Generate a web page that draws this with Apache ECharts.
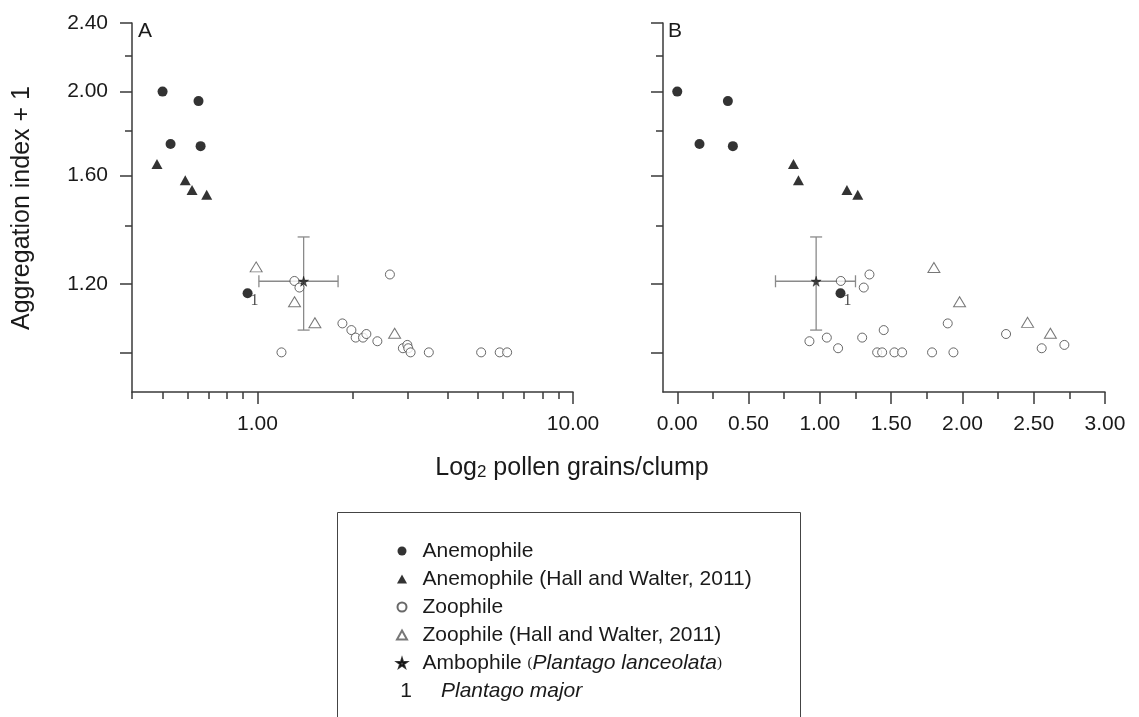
<!DOCTYPE html>
<html>
<head>
<meta charset="utf-8">
<title>Aggregation index vs pollen grains per clump</title>
<script src="https://cdn.jsdelivr.net/npm/echarts@6/dist/echarts.min.js"></script>
<style>
  html, body { margin: 0; padding: 0; background: #fff; }
  #chart { width: 1139px; height: 717px; }
</style>
</head>
<body>
<div id="chart"></div>
<script>
// A: grains/clump on a log axis, B: log2 grains/clump; y is aggregation index + 1 (log)
const anemophileA = [[0.50, 2.00], [0.65, 1.95], [0.53, 1.74], [0.66, 1.73]];
const anemophileB = [[0.00, 2.00], [0.355, 1.95], [0.156, 1.74], [0.39, 1.73]];
const anemoHallA = [[0.48, 1.65], [0.59, 1.58], [0.62, 1.54], [0.69, 1.52]];
const anemoHallB = [[0.815, 1.65], [0.85, 1.58], [1.19, 1.54], [1.266, 1.52]];
const zoophileA = [
  [1.309, 1.209], [1.358, 1.188], [1.191, 1.00], [1.858, 1.080], [1.984, 1.061],
  [2.047, 1.040], [2.159, 1.040], [2.213, 1.050], [2.628, 1.230], [2.398, 1.030],
  [2.889, 1.011], [2.984, 1.020], [3.005, 1.011], [3.056, 1.00], [3.491, 1.00],
  [5.115, 1.00], [5.857, 1.00], [6.183, 1.00]
];
const zoophileB = [
  [1.147, 1.209], [1.348, 1.230], [1.308, 1.188], [0.927, 1.030], [1.049, 1.040],
  [1.128, 1.011], [1.297, 1.040], [1.448, 1.061], [1.402, 1.00], [1.437, 1.00],
  [1.523, 1.00], [1.577, 1.00], [1.787, 1.00], [1.897, 1.080], [1.937, 1.00],
  [2.306, 1.050], [2.556, 1.011], [2.715, 1.020]
];
const zooHallA = [[0.99, 1.255], [1.31, 1.144], [1.52, 1.082], [2.72, 1.052]];
const zooHallB = [[1.80, 1.253], [1.98, 1.144], [2.457, 1.083], [2.617, 1.052]];
const ambophileA = [1.40, 1.208];
const ambophileB = [0.974, 1.208];
const ambophileXErrA = [1.01, 1.80];
const ambophileXErrB = [0.689, 1.25];
const ambophileYErr = [1.061, 1.359];
const plantagoMajorA = [0.93, 1.17];
const plantagoMajorB = [1.145, 1.17];

const yLabels = [1.2, 1.6, 2.0, 2.4];
const yMajorTicks = [1.0, 1.2, 1.6, 2.0, 2.4];
const yMinorTicks = [1.4, 1.8, 2.2];
const xLabelsA = [1, 10];
const xMinorTicksA = [0.4, 0.5, 0.6, 0.7, 0.8, 0.9, 2, 3, 4, 5, 6, 7, 8, 9];
const xLabelsB = [0, 0.5, 1, 1.5, 2, 2.5, 3];
const xMinorTicksB = [0.25, 0.75, 1.25, 1.75, 2.25, 2.75];

const lg = Math.log10;
const same = v => v;
const font = 'Liberation Sans, Arial, sans-serif';
const ink = '#1a1a1a';
const axisColor = '#3a3a3a';

const starPath = 'path://M50,0 L61,35 L98,35 L68,57 L79,91 L50,70 L21,91 L32,57 L2,35 L39,35 Z';
const trianglePath = 'path://M50,0 L100,90 L0,90 Z';

const chart = echarts.init(document.getElementById('chart'));

function yAxes(grid, withLabels) {
  return [
    {
      type: 'value', gridIndex: grid, position: 'left',
      min: lg(0.9), max: lg(2.4),
      axisLine: { show: true, onZero: false, lineStyle: { color: axisColor, width: 1.5 } },
      axisTick: { show: true, length: 12, customValues: yMajorTicks.map(lg), lineStyle: { color: axisColor, width: 1.5 } },
      axisLabel: {
        show: withLabels, customValues: yLabels.map(lg), margin: 24,
        formatter: v => Math.pow(10, v).toFixed(2),
        fontFamily: font, fontSize: 21, color: ink
      },
      splitLine: { show: false }
    },
    {
      type: 'value', gridIndex: grid, position: 'left',
      min: lg(0.9), max: lg(2.4),
      axisLine: { show: false, onZero: false },
      axisTick: { show: true, length: 7, customValues: yMinorTicks.map(lg), lineStyle: { color: axisColor, width: 1.5 } },
      axisLabel: { show: false },
      splitLine: { show: false }
    }
  ];
}

function xAxes(grid, min, max, labels, minor, tx) {
  return [
    {
      type: 'value', gridIndex: grid, position: 'bottom', min: min, max: max,
      axisLine: { show: true, onZero: false, lineStyle: { color: axisColor, width: 1.5 } },
      axisTick: { show: true, length: 12, customValues: labels.map(tx), lineStyle: { color: axisColor, width: 1.5 } },
      axisLabel: {
        customValues: labels.map(tx), margin: 22,
        formatter: v => (tx === lg ? Math.pow(10, v) : v).toFixed(2),
        fontFamily: font, fontSize: 21, color: ink
      },
      splitLine: { show: false }
    },
    {
      type: 'value', gridIndex: grid, position: 'bottom', min: min, max: max,
      axisLine: { show: false, onZero: false },
      axisTick: { show: true, length: 7, customValues: minor.map(tx), lineStyle: { color: axisColor, width: 1.5 } },
      axisLabel: { show: false },
      splitLine: { show: false }
    }
  ];
}

const styles = {
  'Anemophile': { symbol: 'circle', size: 10, itemStyle: { color: '#000' } },
  'Anemophile (Hall and Walter, 2011)': { symbol: trianglePath, size: [11, 10], itemStyle: { color: '#000' } },
  'Zoophile': { symbol: 'circle', size: 9, itemStyle: { color: '#fff', borderColor: '#444', borderWidth: 1 } },
  'Zoophile (Hall and Walter, 2011)': { symbol: trianglePath, size: [12, 10], itemStyle: { color: '#fff', borderColor: '#555', borderWidth: 1 } },
  'Ambophile': { symbol: starPath, size: 10, itemStyle: { color: '#222', borderColor: '#000', borderWidth: 0.5 } }
};

function scatter(name, points, xi, yi, tx) {
  const s = styles[name];
  return {
    name: name, type: 'scatter', xAxisIndex: xi, yAxisIndex: yi,
    symbol: s.symbol, symbolSize: s.size, itemStyle: s.itemStyle, z: 3,
    data: points.map(p => [tx(p[0]), lg(p[1])])
  };
}

function plantagoMajor(point, xi, yi, tx) {
  return {
    name: 'Plantago major', type: 'scatter', xAxisIndex: xi, yAxisIndex: yi,
    symbol: 'circle', symbolSize: 10, itemStyle: { color: '#000' }, z: 3,
    label: {
      show: true, formatter: '1', position: [8, 5],
      fontFamily: 'Liberation Serif, serif', fontSize: 16, color: '#222'
    },
    data: [[tx(point[0]), lg(point[1])]]
  };
}

function errorBars(center, xErr, yErr, xi, yi, tx) {
  return {
    type: 'custom', xAxisIndex: xi, yAxisIndex: yi, silent: true, z: 1,
    data: [[tx(center[0]), lg(center[1]), tx(xErr[0]), tx(xErr[1]), lg(yErr[0]), lg(yErr[1])]],
    renderItem: function (params, api) {
      const l = api.coord([api.value(2), api.value(1)]);
      const r = api.coord([api.value(3), api.value(1)]);
      const b = api.coord([api.value(0), api.value(4)]);
      const t = api.coord([api.value(0), api.value(5)]);
      const cap = 6;
      const style = { stroke: '#8a8a8a', lineWidth: 1.3 };
      const seg = (x1, y1, x2, y2) => ({ type: 'line', shape: { x1, y1, x2, y2 }, style });
      return {
        type: 'group',
        children: [
          seg(l[0], l[1], r[0], r[1]),
          seg(l[0], l[1] - cap, l[0], l[1] + cap),
          seg(r[0], r[1] - cap, r[0], r[1] + cap),
          seg(b[0], b[1], t[0], t[1]),
          seg(b[0] - cap, b[1], b[0] + cap, b[1]),
          seg(t[0] - cap, t[1], t[0] + cap, t[1])
        ]
      };
    }
  };
}

const legendNames = Object.keys(styles);
const textStyle = (txt, size, align, italic) => ({
  text: txt, font: (italic ? 'italic ' : '') + size + 'px ' + font, fill: ink,
  align: align, verticalAlign: 'middle', textAlign: align, textVerticalAlign: 'middle'
});

chart.setOption({
  animation: false,
  backgroundColor: '#fff',
  grid: [
    { left: 132, top: 23, width: 441, height: 369 },
    { left: 663, top: 23, width: 442, height: 369 }
  ],
  xAxis: [
    ...xAxes(0, lg(0.4), lg(10), xLabelsA, xMinorTicksA, lg),
    ...xAxes(1, -0.1, 3.0, xLabelsB, xMinorTicksB, same)
  ],
  yAxis: [...yAxes(0, true), ...yAxes(1, false)],
  legend: {
    orient: 'vertical', left: 391, top: 534,
    itemWidth: 31, itemHeight: 9, itemGap: 4,
    symbolKeepAspect: true,
    selectedMode: false,
    data: legendNames,
    formatter: name => name === 'Ambophile' ? 'Ambophile {p|(}{i|Plantago lanceolata}{p|)}' : name,
    textStyle: {
      fontFamily: font, fontSize: 21, lineHeight: 24, color: ink,
      rich: {
        p: { fontFamily: 'Liberation Serif, serif', fontSize: 15, color: ink },
        i: { fontFamily: font, fontSize: 21, fontStyle: 'italic', color: ink }
      }
    }
  },
  graphic: [
    { type: 'rect', shape: { x: 337.5, y: 512.5, width: 463, height: 230 }, style: { fill: 'none', stroke: '#444', lineWidth: 1 } },
    { type: 'text', x: 406, y: 691, style: textStyle('1', 21, 'center') },
    { type: 'text', x: 441, y: 691, style: textStyle('Plantago major', 21, 'left', true) },
    { type: 'text', x: 138, y: 31, style: textStyle('A', 21, 'left') },
    { type: 'text', x: 668, y: 31, style: textStyle('B', 21, 'left') },
    { type: 'text', x: 22, y: 208, rotation: Math.PI / 2, style: textStyle('Aggregation index + 1', 25, 'center') },
    {
      type: 'text', x: 572, y: 468,
      style: Object.assign(textStyle('Log{s|2} pollen grains/clump', 25, 'center'), {
        rich: {
          s: { fontSize: 17, fontFamily: font, lineHeight: 12, verticalAlign: 'bottom' }
        }
      })
    }
  ],
  series: [
    errorBars(ambophileA, ambophileXErrA, ambophileYErr, 0, 0, lg),
    errorBars(ambophileB, ambophileXErrB, ambophileYErr, 2, 2, same),
    scatter('Anemophile', anemophileA, 0, 0, lg),
    scatter('Anemophile (Hall and Walter, 2011)', anemoHallA, 0, 0, lg),
    scatter('Zoophile', zoophileA, 0, 0, lg),
    scatter('Zoophile (Hall and Walter, 2011)', zooHallA, 0, 0, lg),
    scatter('Ambophile', [ambophileA], 0, 0, lg),
    plantagoMajor(plantagoMajorA, 0, 0, lg),
    scatter('Anemophile', anemophileB, 2, 2, same),
    scatter('Anemophile (Hall and Walter, 2011)', anemoHallB, 2, 2, same),
    scatter('Zoophile', zoophileB, 2, 2, same),
    scatter('Zoophile (Hall and Walter, 2011)', zooHallB, 2, 2, same),
    scatter('Ambophile', [ambophileB], 2, 2, same),
    plantagoMajor(plantagoMajorB, 2, 2, same)
  ]
});
</script>
</body>
</html>
